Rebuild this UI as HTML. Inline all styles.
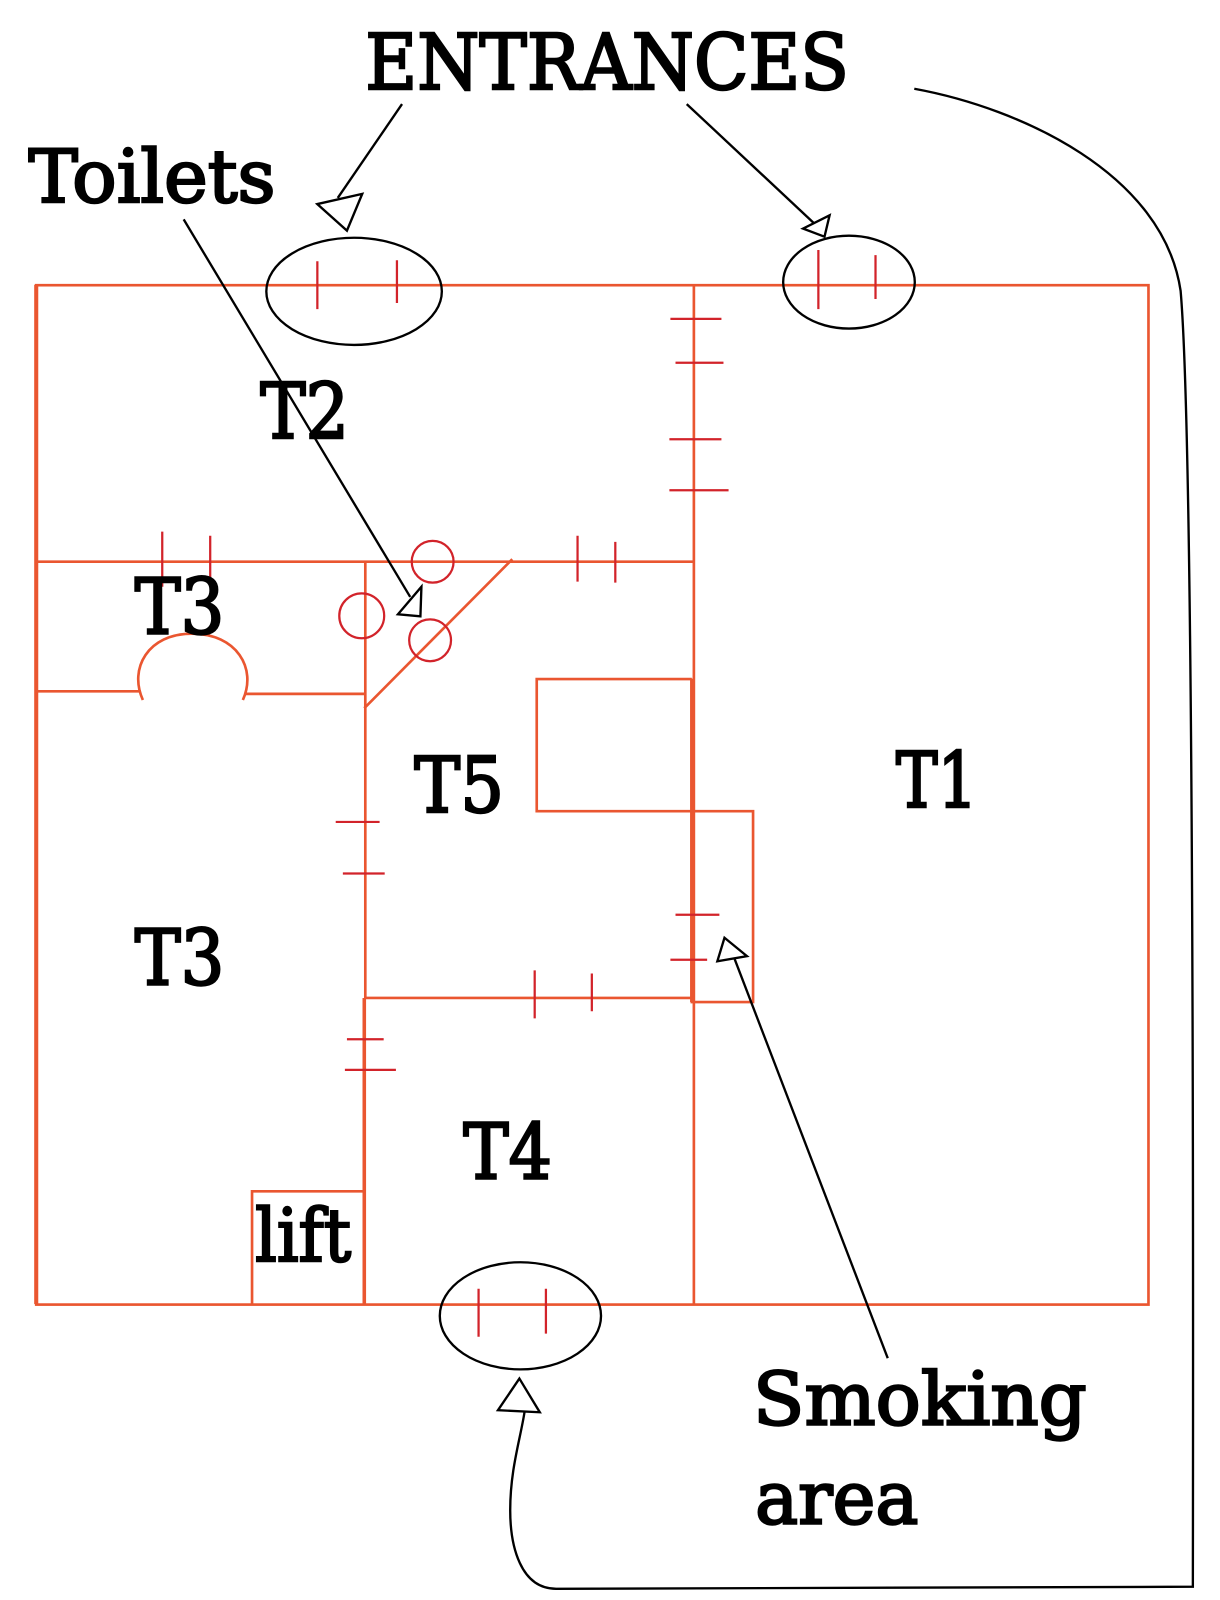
<!DOCTYPE html>
<html><head><meta charset="utf-8"><style>
html,body{margin:0;padding:0;background:#fff}
svg{display:block}
text{font-family:"DejaVu Serif","Liberation Serif",serif;fill:#000;stroke:#000;stroke-width:2.4;paint-order:stroke}
</style></head><body>
<svg width="1220" height="1600" viewBox="0 0 1195.6 1568" xmlns="http://www.w3.org/2000/svg">
<rect width="1196" height="1568" fill="#fff"/>
<g fill="none" stroke="#ea5630" stroke-width="2.6">
<rect x="35.500" y="279.500" width="1090" height="999"/>
<path d="M35.500 279V1278" stroke-width="4"/>
<path d="M680 279V1278"/>
<path d="M36 550.500H680"/>
<path d="M358 550V978"/>
<path d="M357 978V1278" stroke-width="3.500"/>
<path d="M502 548L357 694"/>
<path d="M36 677.500H138M240 680H358"/>
<path d="M140 686C126 655 145 621 188 621C232 621 252 655 238 686"/>
<path d="M678 665.500H526V795H738V982H678V665.500" />
<path d="M678 665V982" stroke-width="3.500"/>
<path d="M358 978H680" />
<path d="M247 1278V1167.500H357"/>
</g>
<g fill="none" stroke="#d2232a" stroke-width="2.200">
<path d="M311 256V303M389 255V297M802 245V303M858 250V293M469 1263V1310M535 1263V1307"/>
<path d="M657 312.500H707M662 355.500H709M656 430.500H707M656 480.500H714"/>
<path d="M159 521V575M206 525V570M566 525V570M603 531V571"/>
<path d="M329 805.500H372M336 856H377M662 896.500H705M657 940.500H693"/>
<path d="M524 951V998M580 954V991M340 1018.500H376M338 1048.500H388"/>
<circle cx="424" cy="550.500" r="20.500"/>
<circle cx="354.500" cy="603.500" r="22"/>
<circle cx="421.500" cy="627.500" r="20.500"/>
</g>
<g fill="none" stroke="#000" stroke-width="2.300">
<ellipse cx="347" cy="285.500" rx="86" ry="52.500"/>
<ellipse cx="832" cy="276.500" rx="64.500" ry="45.500"/>
<ellipse cx="510" cy="1289.500" rx="79" ry="52.500"/>
<path d="M394 102L331 194"/>
<path d="M311 200L355 190L340 226Z" fill="#fff"/>
<path d="M673 102L798 219"/>
<path d="M813 211L808 232L787 224Z" fill="#fff"/>
<path d="M180 215L402 585"/>
<path d="M413 575L412 604L390 602Z" fill="#fff"/>
<path d="M870 1331L720 940"/>
<path d="M710 919L732 937L703 942Z" fill="#fff"/>
<path d="M509 1351L529 1384L488 1382Z" fill="#fff"/>
<path d="M896 87C1000 106 1140 170 1157 285C1167 400 1170 900 1169 1555L545 1557C510 1557 500 1515 500 1480C500 1440 510 1410 514 1384"/>
</g>
<text x="358" y="87" font-size="75" textLength="474" lengthAdjust="spacingAndGlyphs">ENTRANCES</text>
<text x="28" y="198" font-size="72" textLength="242" lengthAdjust="spacingAndGlyphs">Toilets</text>
<text x="255" y="429" font-size="75" textLength="87" lengthAdjust="spacingAndGlyphs">T2</text>
<text x="132" y="621" font-size="75" textLength="88" lengthAdjust="spacingAndGlyphs">T3</text>
<text x="406" y="796" font-size="75" textLength="88" lengthAdjust="spacingAndGlyphs">T5</text>
<text x="132" y="965" font-size="75" textLength="88" lengthAdjust="spacingAndGlyphs">T3</text>
<text x="878" y="791" font-size="75" textLength="80" lengthAdjust="spacingAndGlyphs">T1</text>
<text x="454" y="1155" font-size="75" textLength="87" lengthAdjust="spacingAndGlyphs">T4</text>
<text x="250" y="1236" font-size="72" textLength="94" lengthAdjust="spacingAndGlyphs">lift</text>
<text x="738" y="1396" font-size="72" textLength="327" lengthAdjust="spacingAndGlyphs">Smoking</text>
<text x="740" y="1493" font-size="72" textLength="160" lengthAdjust="spacingAndGlyphs">area</text>
</svg>
</body></html>
